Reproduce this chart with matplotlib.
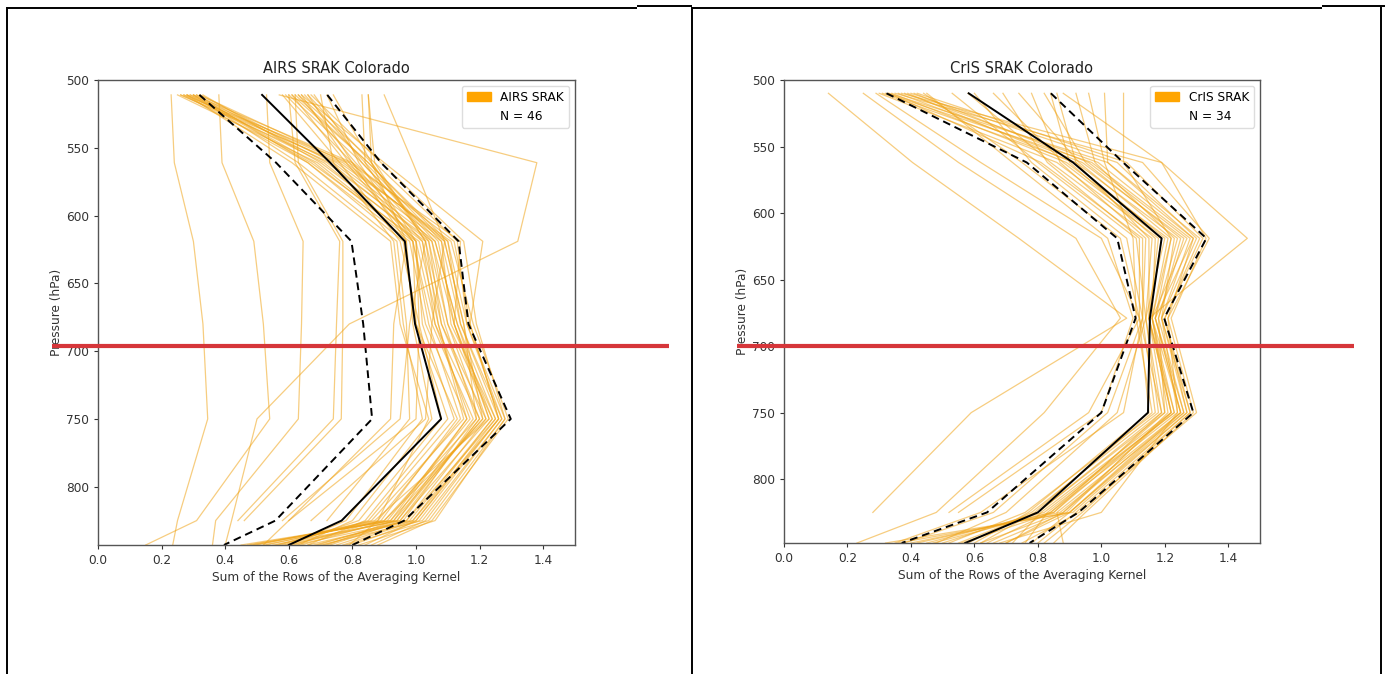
import numpy as np
import matplotlib
matplotlib.use("Agg")
import matplotlib.pyplot as plt
from matplotlib.patches import Patch
from matplotlib.lines import Line2D

nan = np.nan

# ---------------- data ----------------
airs_pressure = [511, 561, 619, 680, 750, 825, 843]
cris_pressure = [510, 562, 619, 679, 750, 825, 848]

airs_profiles = [
    [0.23, 0.24, 0.30, 0.33, 0.345, 0.25, 0.235],
    [0.38, 0.39, 0.49, 0.52, 0.54, 0.31, 0.15],
    [0.53, 0.54, 0.645, 0.64, 0.63, 0.37, 0.36],
    [0.60, 0.62, 0.76, 0.75, 0.74, 0.44, nan],
    [0.57, 1.38, 1.32, 0.79, 0.50, 0.42, 0.40],
    [0.62, 0.63, 0.77, 0.77, 0.765, 0.46, nan],
    [0.85, 0.86, 0.97, 0.93, 0.92, 0.60, 0.52],
    [0.25, 0.69, 1.00, 1.06, 1.20, 0.95, 0.55],
    [0.26, 0.73, 1.04, 1.10, 1.24, 0.98, 0.62],
    [0.27, 0.66, 0.98, 1.03, 1.16, 0.92, 0.48],
    [0.28, 0.75, 1.08, 1.14, 1.27, 1.02, 0.70],
    [0.28, 0.71, 1.02, 1.08, 1.22, 0.90, 0.52],
    [0.29, 0.77, 1.10, 1.16, 1.28, 1.04, 0.78],
    [0.30, 0.68, 0.99, 1.05, 1.18, 0.94, 0.58],
    [0.30, 0.80, 1.12, 1.17, 1.26, 0.99, 0.66],
    [0.31, 0.72, 1.05, 1.12, 1.23, 0.87, 0.50],
    [0.31, 0.66, 0.96, 1.00, 1.13, 0.89, 0.61],
    [0.32, 0.74, 1.06, 1.13, 1.25, 1.00, 0.84],
    [0.32, 0.78, 1.09, 1.15, 1.21, 0.93, 0.45],
    [0.33, 0.70, 1.03, 1.09, 1.19, 0.96, 0.73],
    [0.26, 0.76, 1.11, 1.18, 1.29, 1.05, 0.88],
    [0.29, 0.67, 1.01, 1.07, 1.15, 0.86, 0.56],
    [0.27, 0.79, 1.14, 1.12, 1.22, 0.97, 0.68],
    [0.59, 0.80, 1.02, 1.06, 1.17, 0.91, 0.64],
    [0.60, 0.83, 1.07, 1.12, 1.24, 0.99, 0.75],
    [0.61, 0.78, 0.99, 1.04, 1.14, 0.88, 0.53],
    [0.62, 0.85, 1.10, 1.14, 1.26, 1.01, 0.80],
    [0.63, 0.81, 1.05, 1.10, 1.21, 0.92, 0.47],
    [0.63, 0.87, 1.13, 1.16, 1.27, 1.03, 0.86],
    [0.64, 0.79, 1.00, 1.02, 1.12, 0.85, 0.57],
    [0.65, 0.84, 1.08, 1.11, 1.25, 0.97, 0.71],
    [0.66, 0.86, 1.04, 1.08, 1.20, 0.94, 0.60],
    [0.66, 0.80, 0.97, 0.99, 1.05, 0.80, 0.63],
    [0.67, 0.89, 1.15, 1.19, 1.28, 1.06, 0.82],
    [0.68, 0.83, 1.06, 1.13, 1.23, 0.95, 0.69],
    [0.61, 0.85, 1.09, 1.15, 1.19, 0.90, 0.49],
    [0.64, 0.90, 1.21, 1.17, 1.26, 1.00, 0.77],
    [0.83, 0.84, 1.00, 1.01, 1.00, 0.60, nan],
    [0.85, 0.87, 1.03, 0.98, 0.95, 0.58, nan],
    [0.90, 0.99, 1.09, 1.05, 1.03, 0.67, nan],
    [0.70, 0.74, 0.93, 0.96, 1.02, 0.78, 0.60],
    [0.72, 0.82, 0.99, 1.00, 1.10, 0.84, 0.66],
    [0.74, 0.86, 1.03, 1.07, 1.16, 0.93, 0.72],
    [0.58, 0.76, 0.95, 1.01, 1.08, 0.82, 0.59],
    [0.30, 0.63, 0.94, 0.97, 0.98, 0.72, nan],
    [0.28, 0.61, 0.92, 0.95, 1.04, 0.88, 0.79],
]
airs_median = [0.516, 0.730, 0.965, 0.997, 1.079, 0.766, 0.60]
airs_lower = [0.319, 0.560, 0.797, 0.834, 0.862, 0.558, 0.396]
airs_upper = [0.721, 0.890, 1.134, 1.165, 1.298, 0.963, 0.80]

cris_profiles = [
    [0.14, 0.405, 0.74, 1.08, 0.59, 0.28, nan],
    [0.25, 0.55, 0.92, 1.06, 0.82, 0.48, 0.23],
    [0.29, 0.62, 1.00, 1.12, 0.96, 0.52, nan],
    [0.88, 1.19, 1.46, 1.15, 1.22, 0.88, 0.62],
    [1.07, 1.07, 1.22, 1.16, 1.25, 0.90, 0.70],
    [0.45, 0.72, 1.02, 1.10, 1.00, 0.55, nan],
    [0.60, 0.78, 1.08, 1.13, 1.07, 0.62, 0.35],
    [0.30, 0.86, 1.18, 1.15, 1.22, 0.85, 0.42],
    [0.31, 0.92, 1.24, 1.17, 1.25, 0.88, 0.70],
    [0.32, 0.97, 1.28, 1.19, 1.27, 0.90, 0.36],
    [0.33, 1.02, 1.31, 1.20, 1.28, 0.92, 0.80],
    [0.34, 0.89, 1.21, 1.16, 1.23, 0.82, 0.45],
    [0.35, 1.13, 1.34, 1.21, 1.29, 0.95, 0.85],
    [0.36, 0.94, 1.26, 1.18, 1.20, 0.80, 0.50],
    [0.37, 1.19, 1.33, 1.22, 1.30, 0.93, 0.75],
    [0.38, 0.99, 1.29, 1.17, 1.26, 0.87, 0.40],
    [0.39, 0.91, 1.20, 1.14, 1.18, 0.78, 0.58],
    [0.40, 1.05, 1.30, 1.19, 1.24, 0.84, 0.47],
    [0.41, 0.96, 1.27, 1.16, 1.21, 0.89, 0.66],
    [0.42, 1.08, 1.32, 1.20, 1.27, 0.91, 0.32],
    [0.58, 0.84, 1.16, 1.14, 1.19, 0.80, 0.55],
    [0.66, 0.88, 1.19, 1.15, 1.23, 0.83, 0.76],
    [0.69, 0.83, 1.12, 1.12, 1.15, 0.77, 0.60],
    [0.74, 0.93, 1.22, 1.17, 1.25, 0.86, 0.88],
    [0.78, 0.87, 1.14, 1.13, 1.17, 0.76, 0.52],
    [0.82, 0.95, 1.25, 1.18, 1.26, 0.90, 0.78],
    [0.84, 0.90, 1.17, 1.16, 1.22, 0.81, 0.72],
    [0.92, 0.98, 1.23, 1.19, 1.28, 0.94, 0.82],
    [1.01, 1.02, 1.29, 1.21, 1.24, 1.00, 0.68],
    [0.96, 1.01, 1.10, 1.11, 1.16, 0.79, 0.62],
    [0.53, 0.80, 1.11, 1.14, 1.05, 0.70, 0.48],
    [0.44, 0.75, 1.06, 1.12, 1.19, 0.85, 0.56],
    [0.86, 0.92, 1.15, 1.15, 1.20, 0.84, 0.64],
    [0.33, 0.81, 1.13, 1.13, 1.02, 0.66, 0.38],
]
cris_median = [0.582, 0.911, 1.190, 1.153, 1.147, 0.800, 0.571]
cris_lower = [0.323, 0.765, 1.050, 1.108, 1.000, 0.640, 0.371]
cris_upper = [0.841, 1.069, 1.331, 1.198, 1.290, 0.928, 0.774]

panels = [
    dict(title="AIRS SRAK Colorado", label="AIRS SRAK", n="N = 46",
         p=airs_pressure, prof=airs_profiles, med=airs_median,
         lo=airs_lower, hi=airs_upper, bottom=843,
         rect=(98, 80, 575, 545)),
    dict(title="CrIS SRAK Colorado", label="CrIS SRAK", n="N = 34",
         p=cris_pressure, prof=cris_profiles, med=cris_median,
         lo=cris_lower, hi=cris_upper, bottom=848,
         rect=(784, 80, 1260, 543)),
]

W, H = 1385, 674
fig = plt.figure(figsize=(W / 100, H / 100), dpi=100)
fig.patch.set_facecolor("white")

FS = 8.7
for pan in panels:
    x0, y0, x1, y1 = pan["rect"]
    ax = fig.add_axes([x0 / W, 1 - y1 / H, (x1 - x0) / W, (y1 - y0) / H])
    for prof in pan["prof"]:
        ax.plot(prof, pan["p"], color="#f0a418", alpha=0.55, lw=0.9)
    ax.plot(pan["med"], pan["p"], color="black", lw=1.4)
    ax.plot(pan["lo"], pan["p"], color="black", lw=1.4, ls=(0, (4, 2.5)))
    ax.plot(pan["hi"], pan["p"], color="black", lw=1.4, ls=(0, (4, 2.5)))
    ax.set_xlim(0, 1.5)
    ax.set_ylim(pan["bottom"], 500)
    ax.set_xticks([0.0, 0.2, 0.4, 0.6, 0.8, 1.0, 1.2, 1.4])
    ax.set_yticks([500, 550, 600, 650, 700, 750, 800])
    ax.tick_params(labelsize=FS, colors="#333333", length=3)
    for s in ax.spines.values():
        s.set_color("#555555")
        s.set_linewidth(1.0)
    ax.set_title(pan["title"], fontsize=10.5, color="#222222", pad=5)
    ax.set_xlabel("Sum of the Rows of the Averaging Kernel", fontsize=FS,
                  color="#333333", labelpad=3)
    ax.set_ylabel("Pressure (hPa)", fontsize=FS, color="#333333", labelpad=2)
    handles = [Patch(color="orange", label=pan["label"]),
               Line2D([], [], color="none", label=pan["n"])]
    ax.legend(handles=handles, loc="upper right", fontsize=FS,
              framealpha=1, edgecolor="#dddddd")


def px_line(xs, ys, **kw):
    fig.add_artist(Line2D([x / W for x in xs], [1 - y / H for y in ys],
                          transform=fig.transFigure, **kw))


# table frame
frame = dict(color="black", lw=1.4, solid_capstyle="butt")
px_line([7, 7], [7, 674], **frame)
px_line([692, 692], [7, 674], **frame)
px_line([1381, 1381], [7, 674], **frame)
px_line([7, 637], [7.5, 7.5], **frame)
px_line([637, 692], [6, 6], **frame)
px_line([692, 1322], [7.5, 7.5], **frame)
px_line([1322, 1385], [6, 6], **frame)

# red reference lines at ~700 hPa
red = dict(color="#d6363a", lw=3.0, solid_capstyle="butt")
px_line([52, 669], [345.5, 345.5], **red)
px_line([737, 1354], [345.5, 345.5], **red)

fig.savefig("out.png", dpi=100)
